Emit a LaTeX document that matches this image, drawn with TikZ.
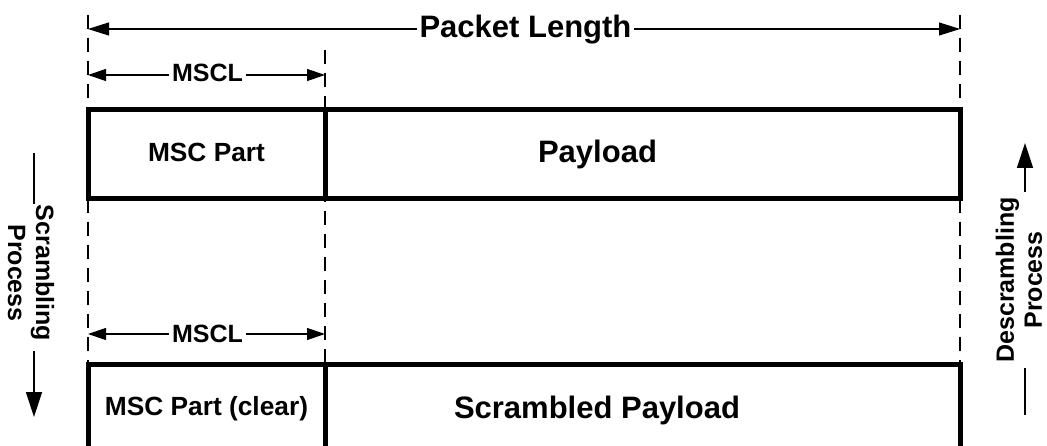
\documentclass[tikz,border=0pt]{standalone}
\usepackage{fontspec}
\setmainfont{Liberation Sans}
\usetikzlibrary{arrows.meta,backgrounds}
\begin{document}
\begin{tikzpicture}[x=1pt,y=-1pt,
  pbox/.style={draw, rectangle, line width=5pt, line join=miter, outer sep=0pt, inner sep=0pt},
  guide/.style={line width=1.4pt, dash pattern=on 14pt off 9pt},
  bigdim/.style={line width=1.2pt, {Triangle[length=21pt,width=13pt]}-{Triangle[length=21pt,width=13pt]}},
  smalldim/.style={line width=1.2pt, {Triangle[length=18pt,width=12pt]}-{Triangle[length=18pt,width=12pt]}},
  procline/.style={line width=1.3pt},
  procarrow/.style={line width=1.3pt, -{Triangle[length=25pt,width=16pt]}},
  biglab/.style={font=\bfseries\fontsize{31}{36}\selectfont, anchor=base, inner sep=0pt},
  midlab/.style={font=\bfseries\fontsize{26.3}{30}\selectfont, anchor=base, inner sep=0pt},
  dimlab/.style={font=\bfseries\fontsize{25}{29}\selectfont, anchor=base, inner xsep=3pt, inner ysep=1pt, fill=white},
  proclab/.style={font=\bfseries\fontsize{25}{28}\selectfont, align=center, inner sep=0pt},
]
\useasboundingbox (0,0) rectangle (1047,446);
\clip (0,0) rectangle (1047,446);

% packet boxes: original packet on top, scrambled packet below
\node[pbox, minimum width=237pt, minimum height=89pt, anchor=north west] (msc) at (88,110) {};
\node[pbox, minimum width=635pt, minimum height=89pt, anchor=north west] (pay) at (325,110) {};
\node[pbox, minimum width=237pt, minimum height=120pt, anchor=north west] (msc2) at (88,364) {};
\node[pbox, minimum width=635pt, minimum height=120pt, anchor=north west] (pay2) at (325,364) {};

% dashed guide lines behind the boxes
\coordinate (gl) at (88,15);
\coordinate (gm) at (325,50);
\coordinate (gr) at (960,15);
\begin{scope}[on background layer]
\draw[guide] (gl) -- (msc2.north west);
\draw[guide] (gm) -- (msc2.north east);
\draw[guide] (gr) -- (pay2.north east);
\end{scope}

% box texts
\node[midlab] (t1) at (206.5,162) {MSC Part};
\node[biglab] (t2) at (597.5,163) {Payload};
\node[midlab] (t3) at (206.5,415) {MSC Part (clear)};
\node[biglab] (t4) at (597,418) {Scrambled Payload};

% dimension arrows
\coordinate (pl-a) at (88,29);
\coordinate (pl-b) at (960,29);
\draw[bigdim] (pl-a) -- (pl-b);
\node[biglab, fill=white, inner xsep=3pt, inner ysep=1pt] (pl) at (525.5,38) {Packet Length};

\coordinate (m1-a) at (88,75);
\coordinate (m1-b) at (325,75);
\draw[smalldim] (m1-a) -- (m1-b);
\node[dimlab] (m1) at (207.5,82) {MSCL};

\coordinate (m2-a) at (88,334);
\coordinate (m2-b) at (325,334);
\draw[smalldim] (m2-a) -- (m2-b);
\node[dimlab] (m2) at (207.5,342) {MSCL};

% scrambling direction
\node[proclab, rotate=-90] (scr) at (31,273) {Scrambling\\Process};
\coordinate (s0) at (34,153);
\coordinate (s1) at (34,204);
\coordinate (s2) at (34,351);
\coordinate (s3) at (34,417);
\draw[procline] (s0) -- (s1);
\draw[procarrow] (s2) -- (s3);

% descrambling direction
\node[proclab, rotate=90] (dscr) at (1019,280) {Descrambling\\Process};
\coordinate (d0) at (1025,415);
\coordinate (d1) at (1025,368);
\coordinate (d2) at (1025,192);
\coordinate (d3) at (1025,143);
\draw[procline] (d0) -- (d1);
\draw[procarrow] (d2) -- (d3);
\end{tikzpicture}
\end{document}
